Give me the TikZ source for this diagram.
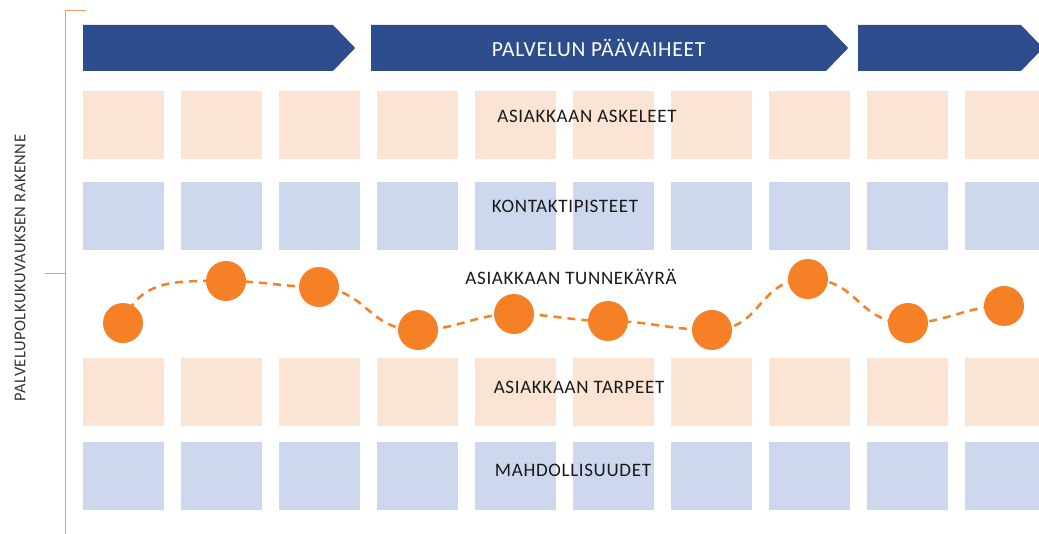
\documentclass[tikz,border=0pt]{standalone}
\usepackage{fontspec}
\setmainfont{Carlito}
\usetikzlibrary{shapes.symbols,backgrounds}

\definecolor{phaseblue}{HTML}{2D4D8D}
\definecolor{stepbeige}{HTML}{FCE4D4}
\definecolor{touchblue}{HTML}{CDD7EE}
\definecolor{moodorange}{HTML}{F58025}
\definecolor{framepeach}{HTML}{F29B62}

\begin{document}
\begin{tikzpicture}[x=1pt,y=-1pt]
    \newcommand{\pitch}[0]{98}
    \tikzstyle{phase}=[
      signal, signal to=east, signal pointer angle=92,
      fill=phaseblue, draw=none, inner sep=0pt, anchor=west,
      minimum height=46pt, text=white,
      font=\fontsize{21.5}{24}\selectfont\addfontfeature{LetterSpace=3.5},
    ]
    \tikzstyle{cell}=[
      draw=none, inner sep=0pt,
      minimum width=81pt, minimum height=68pt,
    ]
    \tikzstyle{stepcell}=[cell, fill=stepbeige]
    \tikzstyle{touchcell}=[cell, fill=touchblue]
    \tikzstyle{rowlabel}=[
      font=\fontsize{19}{22}\selectfont\addfontfeature{LetterSpace=3.5},
      text=black!90,
    ]
    \tikzstyle{mood}=[
      circle, fill=moodorange, inner sep=0pt, minimum size=40pt,
    ]
    \tikzstyle{moodline}=[
      draw=moodorange, line width=2.5pt, dash pattern=on 8pt off 6pt,
    ]
    \tikzstyle{frameline}=[draw=framepeach, line width=1pt]

    \useasboundingbox (0,0) rectangle (1039,534);

    % rakenteen kehys
    \coordinate (frame top) at (86,11);
    \coordinate (frame corner) at (65,11);
    \coordinate (frame bottom) at (65,534);
    \coordinate (frame mid) at (65,274);
    \coordinate (tick end) at (45,274);
    \draw[frameline] (frame top) -- (frame corner) -- (frame bottom);
    \draw[frameline] (tick end) -- (frame mid);
    \node[rotate=90, text=black!80,
      font=\fontsize{16.5}{20}\selectfont\addfontfeature{LetterSpace=3}]
      (structure label) at (20,268) {PALVELUPOLKUKUVAUKSEN RAKENNE};

    % vaiheet
    \node[phase, minimum width=272pt] (phase a) at (83,48) {};
    \node[phase, minimum width=477pt] (phase b) at (371,48) {PALVELUN PÄÄVAIHEET};
    \node[phase, minimum width=185pt] (phase c) at (858,48) {};

    % ruudukko
    \foreach \i in {0,...,9} {
      \node[stepcell]  (step\i)  at (123.5+\pitch*\i,125) {};
      \node[touchcell] (touch\i) at (123.5+\pitch*\i,216) {};
      \node[stepcell]  (need\i)  at (123.5+\pitch*\i,392) {};
      \node[touchcell] (chance\i) at (123.5+\pitch*\i,476) {};
    }

    \node[rowlabel] (steps label) at (587,116) {ASIAKKAAN ASKELEET};
    \node[rowlabel] (touch label) at (565,206) {KONTAKTIPISTEET};
    \node[rowlabel] (mood label) at (571,277) {ASIAKKAAN TUNNEKÄYRÄ};
    \node[rowlabel] (needs label) at (579,387) {ASIAKKAAN TARPEET};
    \node[rowlabel] (chance label) at (573,470) {MAHDOLLISUUDET};

    % tunnekäyrä
    \node[mood] (m1) at (123,323) {};
    \node[mood] (m2) at (226,281) {};
    \node[mood] (m3) at (319,287) {};
    \node[mood] (m4) at (418,330) {};
    \node[mood] (m5) at (514,314) {};
    \node[mood] (m6) at (608,321) {};
    \node[mood] (m7) at (712,330) {};
    \node[mood] (m8) at (808,279) {};
    \node[mood] (m9) at (908,323) {};
    \node[mood] (m10) at (1004,306) {};

    \begin{pgfonlayer}{background}
      \draw[moodline] (m1.center) to[out=70,in=180,looseness=1.1] (m2.center)
        to[out=0,in=180] (m3.center) to[out=-5,in=180,looseness=1.2] (m4.center)
        to[out=0,in=180] (m5.center) to[out=0,in=180] (m6.center)
        to[out=0,in=180] (m7.center) to[out=0,in=180,looseness=1.2] (m8.center)
        to[out=0,in=180,looseness=1.2] (m9.center) to[out=0,in=180] (m10.center);
    \end{pgfonlayer}
\end{tikzpicture}
\end{document}
